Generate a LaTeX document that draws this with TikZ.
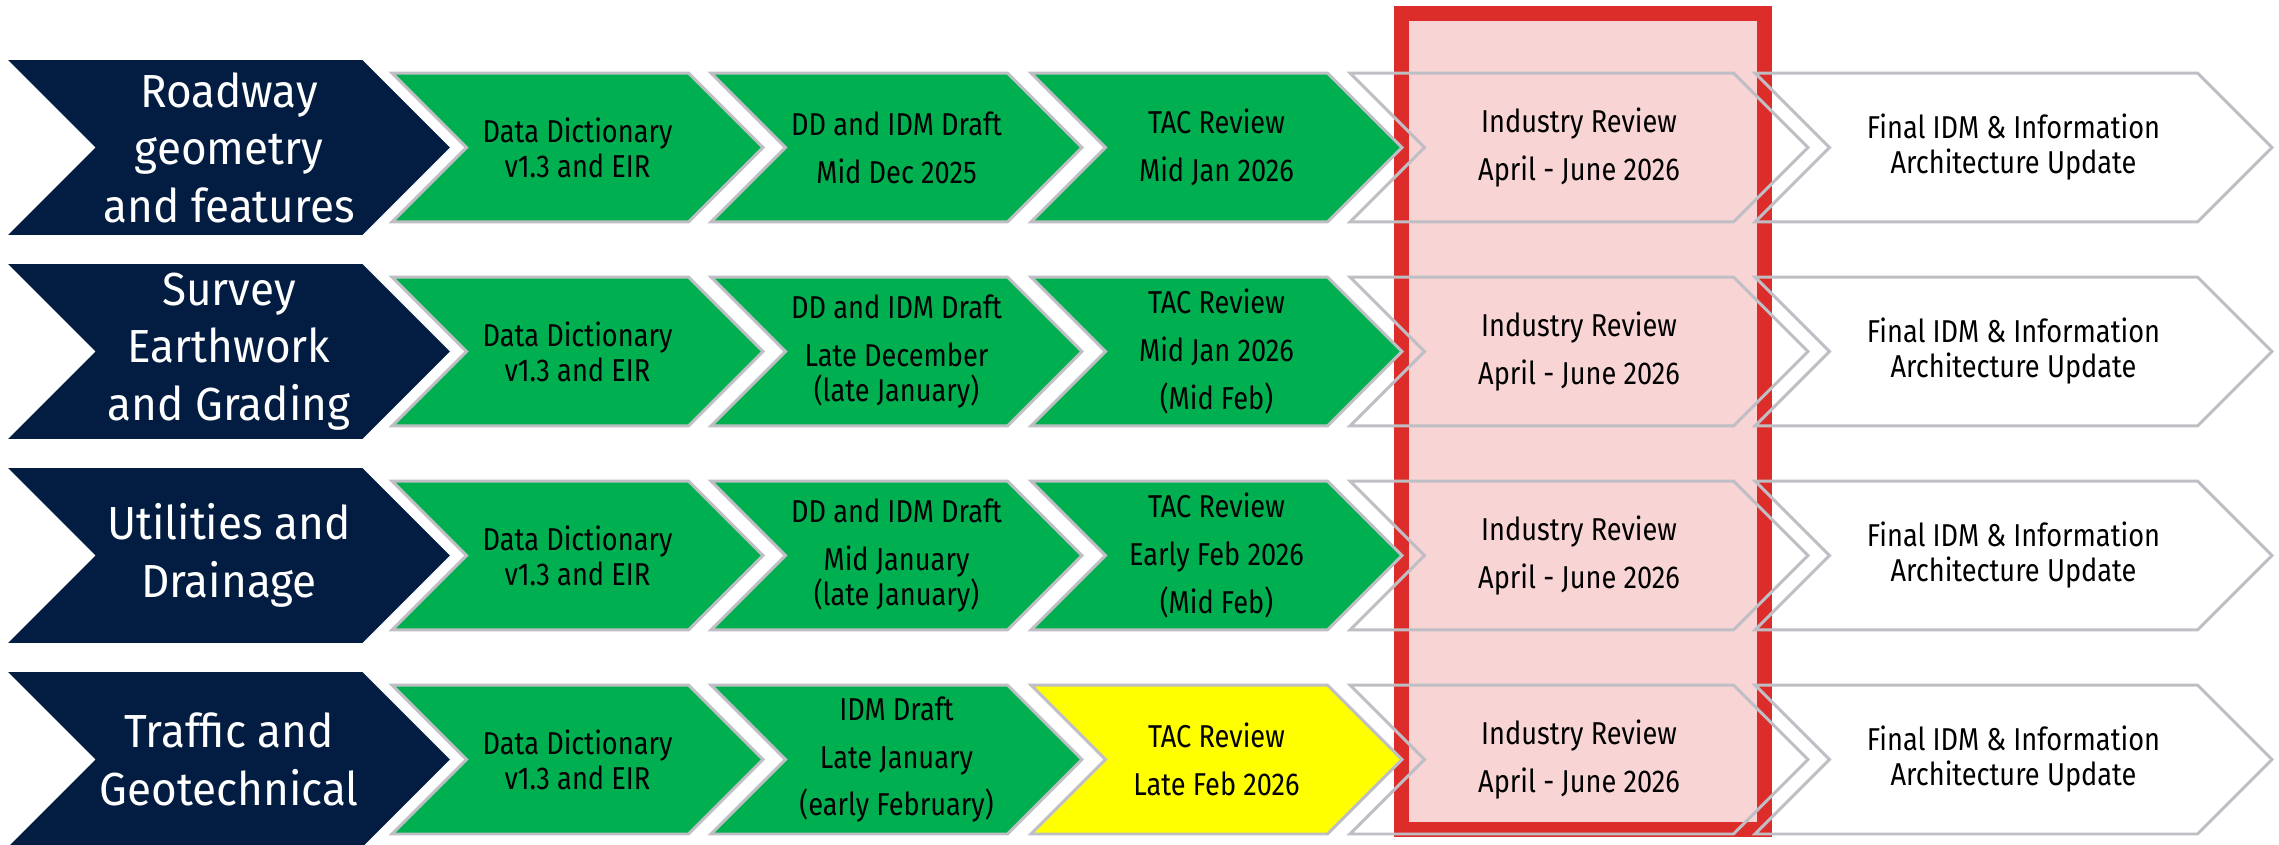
\documentclass[tikz,border=0pt]{standalone}
\usepackage{fontspec}
\setmainfont{Fira Sans}[FakeStretch=0.86]
\newfontfamily\headfont{Fira Sans}[FakeStretch=0.95]
\usetikzlibrary{shapes.symbols, positioning}
\definecolor{navy}{RGB}{2,29,65}
\definecolor{okgreen}{RGB}{0,176,80}
\definecolor{warnyellow}{RGB}{255,255,0}
\definecolor{edgegray}{RGB}{190,190,196}
\definecolor{framered}{RGB}{220,45,43}
\definecolor{framepink}{RGB}{248,212,212}
\newcommand{\linegap}{7.4pt} % extra space under the first line of a step
\tikzset{
chevron/.style={signal, signal to=east, signal from=west, signal pointer angle=90, inner sep=0pt, align=center}, % arrow shape shared by all steps
head/.style={chevron, fill=navy, text=white, minimum width=8.84cm, minimum height=3.5cm, font=\headfont\fontsize{26.4}{32.7}\selectfont}, % row titles
stepbox/.style={chevron, draw=edgegray, line width=1.7pt, minimum width=7.42cm, minimum height=2.98cm, font=\fontsize{18}{19.9}\selectfont}, % the steps
done/.style={stepbox, fill=okgreen}, % finished steps
pending/.style={stepbox, fill=warnyellow}, % late step
review/.style={stepbox, minimum width=9.16cm}, % industry review
final/.style={stepbox, minimum width=10.34cm}, % last step
frame/.style={draw=framered, line width=8.5pt, fill=framepink, minimum width=7.26cm, minimum height=16.32cm}, % highlight of the review column
}
\begin{document}
\begin{tikzpicture}[x=0.02cm, y=-0.02cm]
    \useasboundingbox (0,0) rectangle (2279,845);
    \node[frame] (window) at (1583,421.5) {};
    % roadway
    \node[head] (road) at (229,147.5) {Roadway\\geometry\\and features};
    \node[done] (road-dd) at (577.5,147.5) {Data Dictionary\\v1.3 and EIR};
    \node[done] (road-draft) at (896.5,147.5) {DD and IDM Draft\\[\linegap]Mid Dec 2025};
    \node[done] (road-tac) at (1216.5,147.5) {TAC Review\\[\linegap]Mid Jan 2026};
    \node[review] (road-ind) at (1579,147.5) {Industry Review\\[\linegap]April - June 2026};
    \node[final] (road-fin) at (2013.5,147.5) {Final IDM \& Information\\Architecture Update};
    % survey
    \node[head] (surv) at (229,351.5) {Survey\\Earthwork\\and Grading};
    \node[done] (surv-dd) at (577.5,351.5) {Data Dictionary\\v1.3 and EIR};
    \node[done] (surv-draft) at (896.5,351.5) {DD and IDM Draft\\[\linegap]Late December\\(late January)};
    \node[done] (surv-tac) at (1216.5,351.5) {TAC Review\\[\linegap]Mid Jan 2026\\[\linegap](Mid Feb)};
    \node[review] (surv-ind) at (1579,351.5) {Industry Review\\[\linegap]April - June 2026};
    \node[final] (surv-fin) at (2013.5,351.5) {Final IDM \& Information\\Architecture Update};
    % utilities
    \node[head] (util) at (229,555.5) {Utilities and\\Drainage};
    \node[done] (util-dd) at (577.5,555.5) {Data Dictionary\\v1.3 and EIR};
    \node[done] (util-draft) at (896.5,555.5) {DD and IDM Draft\\[\linegap]Mid January\\(late January)};
    \node[done] (util-tac) at (1216.5,555.5) {TAC Review\\[\linegap]Early Feb 2026\\[\linegap](Mid Feb)};
    \node[review] (util-ind) at (1579,555.5) {Industry Review\\[\linegap]April - June 2026};
    \node[final] (util-fin) at (2013.5,555.5) {Final IDM \& Information\\Architecture Update};
    % traffic
    \node[head] (traf) at (229,759.5) {Traffic and\\Geotechnical};
    \node[done] (traf-dd) at (577.5,759.5) {Data Dictionary\\v1.3 and EIR};
    \node[done] (traf-draft) at (896.5,759.5) {IDM Draft\\[\linegap]Late January\\[\linegap](early February)};
    \node[pending] (traf-tac) at (1216.5,759.5) {TAC Review\\[\linegap]Late Feb 2026};
    \node[review] (traf-ind) at (1579,759.5) {Industry Review\\[\linegap]April - June 2026};
    \node[final] (traf-fin) at (2013.5,759.5) {Final IDM \& Information\\Architecture Update};
\end{tikzpicture}
\end{document}
